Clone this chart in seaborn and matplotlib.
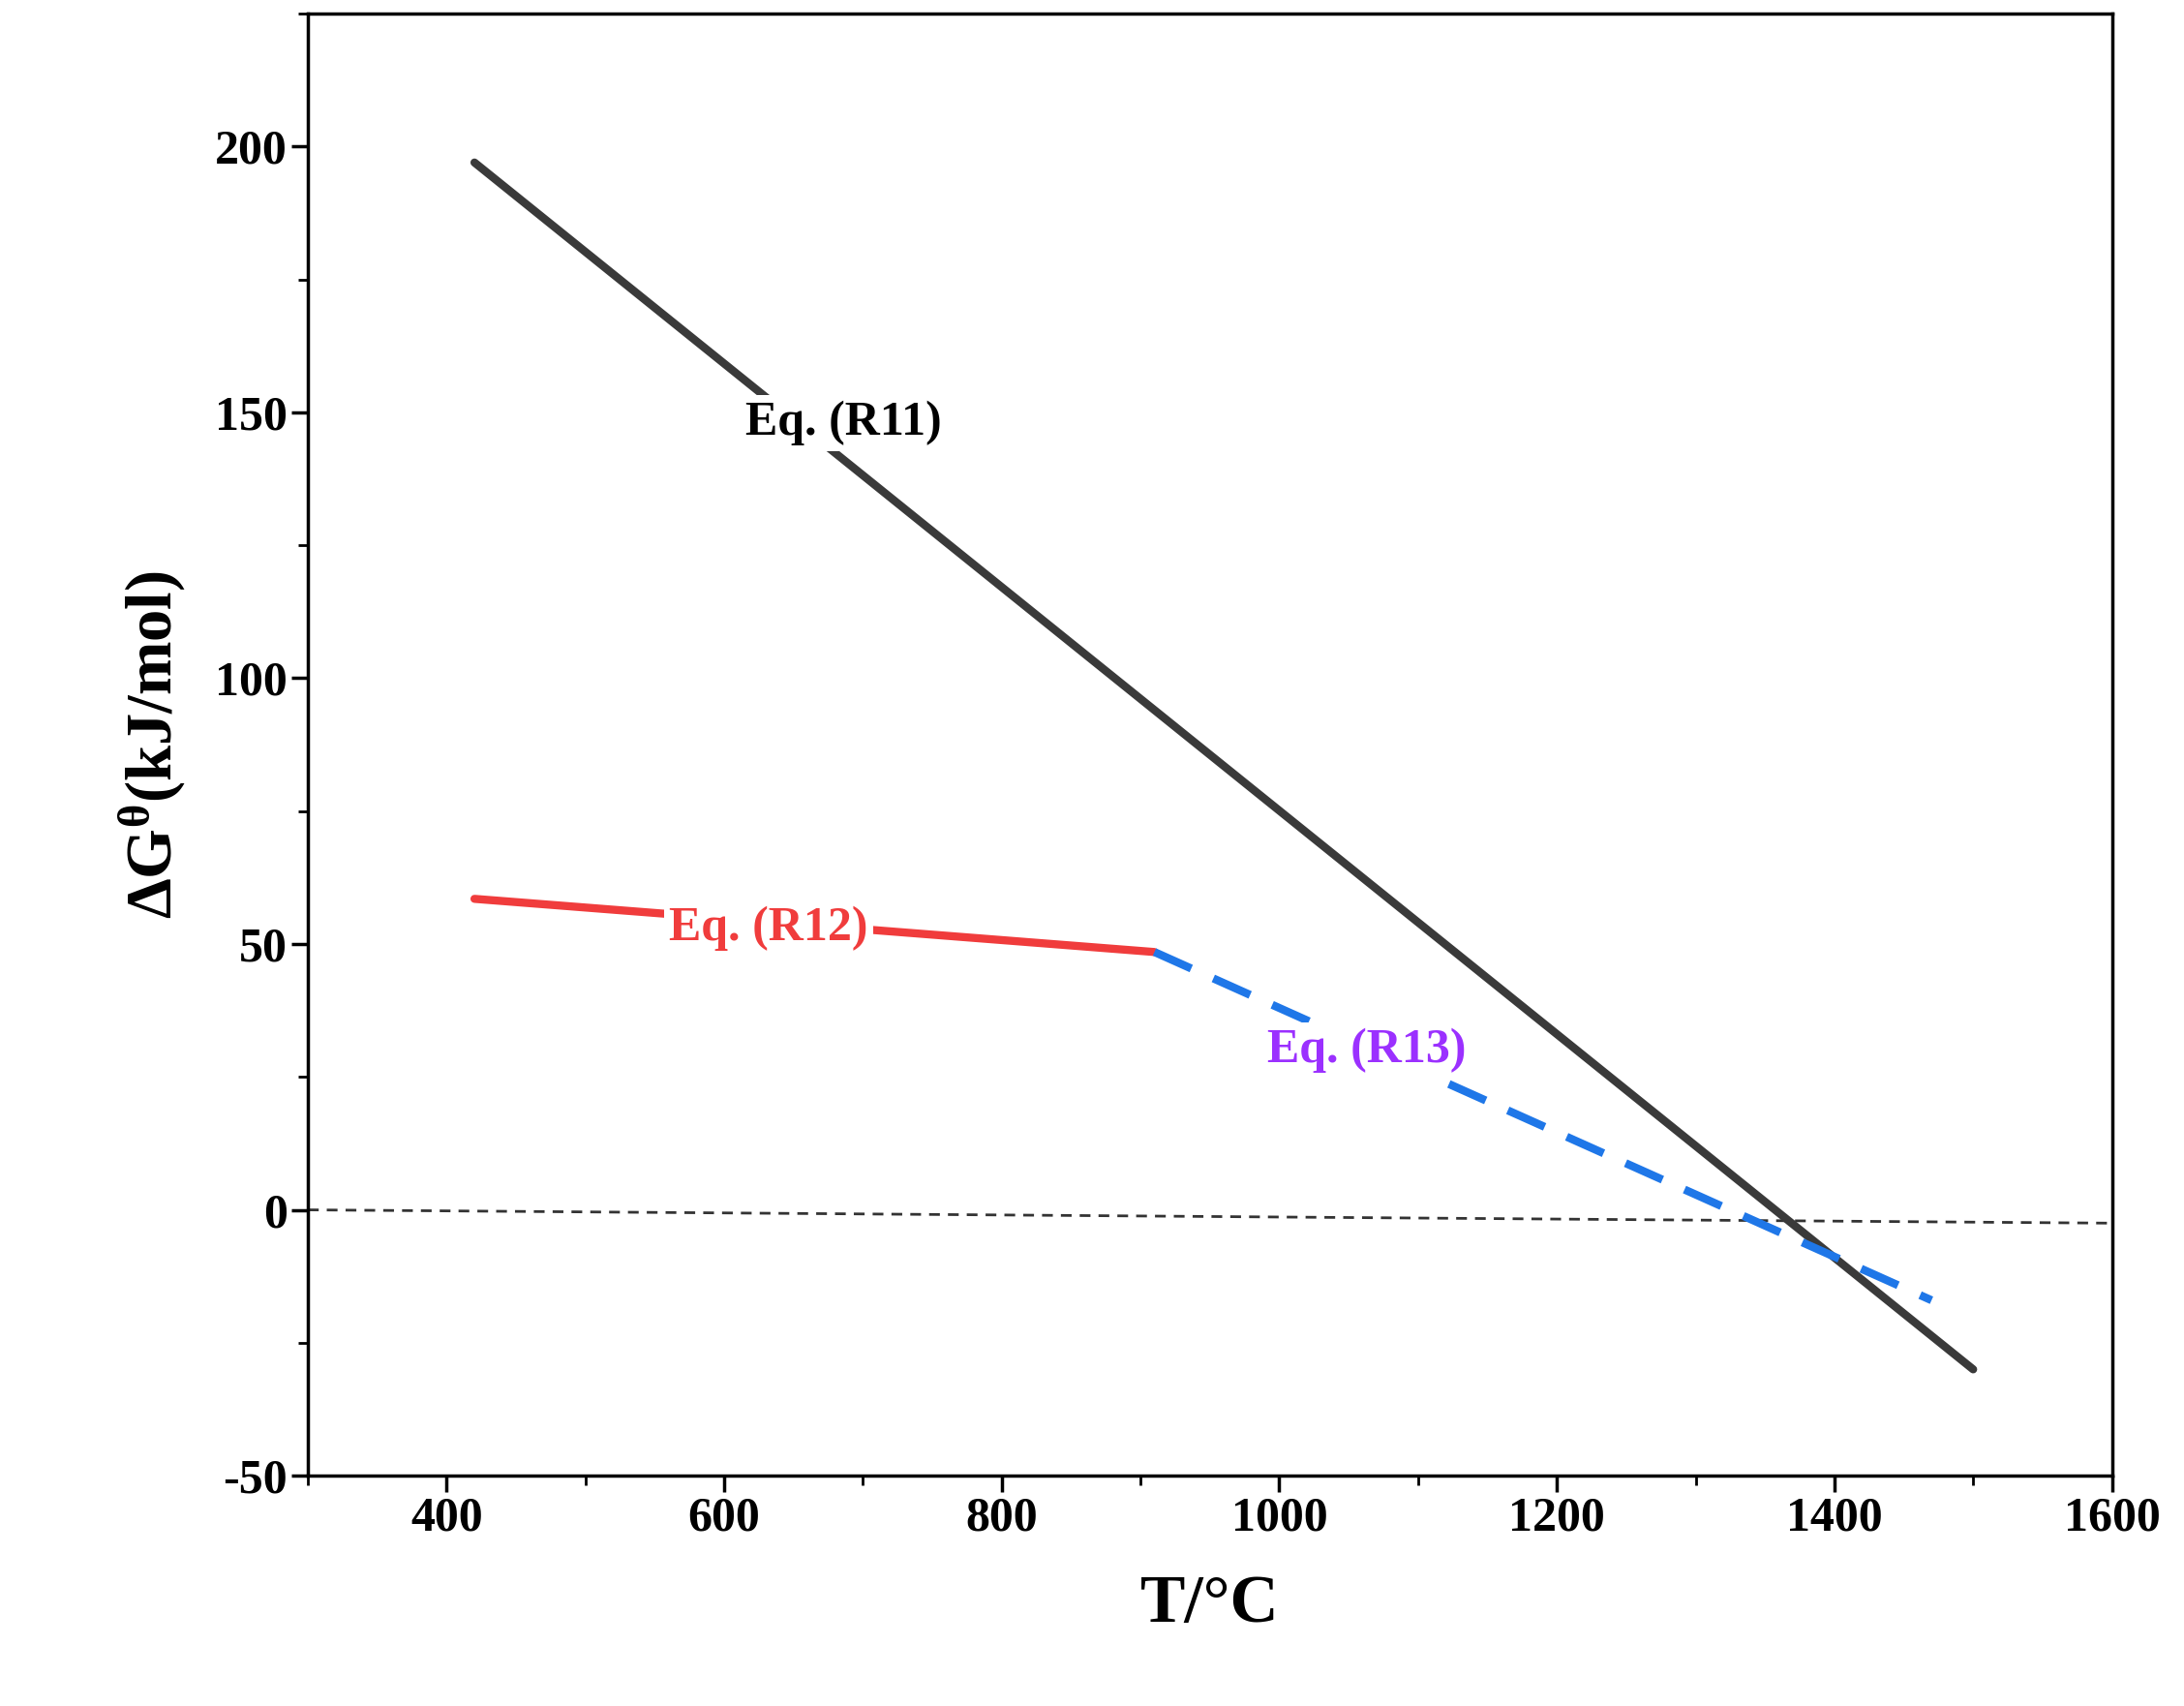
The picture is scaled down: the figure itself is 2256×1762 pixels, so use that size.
import matplotlib
matplotlib.use("Agg")
import matplotlib.pyplot as plt
import seaborn as sns
import pandas as pd
from matplotlib.ticker import MultipleLocator

r11_T = [420, 1500]
r11_G = [197, -30]
r12_T = [420, 910]
r12_G = [58.5, 48.5]
r13_T = [910, 1470]
r13_G = [48.5, -17]
zero_T = [300, 1600]
zero_G = [0, -2.5]

sns.set_style("ticks")
plt.rcParams["font.family"] = "Liberation Serif"
plt.rcParams["font.weight"] = "bold"
plt.rcParams["axes.unicode_minus"] = False
plt.rcParams["mathtext.fontset"] = "custom"
plt.rcParams["mathtext.rm"] = "Liberation Serif:bold"
plt.rcParams["mathtext.bf"] = "Liberation Serif:bold"
plt.rcParams["mathtext.it"] = "Liberation Serif:bold"
fig = plt.figure(figsize=(22.56, 17.62), dpi=100)
ax = fig.add_axes([0.141, 0.135, 0.826, 0.857])

sns.lineplot(x=zero_T, y=zero_G, ax=ax, color="#333333", lw=2, linestyle=(0, (4, 3)))
sns.lineplot(x=r11_T, y=r11_G, ax=ax, color="#3a3a3a", lw=6)
sns.lineplot(x=r12_T, y=r12_G, ax=ax, color="#f03c3c", lw=6)
sns.lineplot(x=r13_T, y=r13_G, ax=ax, color="#1f77e8", lw=6, linestyle=(0, (5, 3)))

box = dict(facecolor="white", edgecolor="none", pad=4)
ax.text(686, 148, "Eq. (R11)", fontsize=36, fontweight="bold", color="black", ha="center", va="center", bbox=box)
ax.text(632, 53, "Eq. (R12)", fontsize=36, fontweight="bold", color="#f03c3c", ha="center", va="center", bbox=box)
ax.text(1063, 30, "Eq. (R13)", fontsize=36, fontweight="bold", color="#9b30ff", ha="center", va="center", bbox=box)

ax.set_xlim(300, 1600)
ax.set_ylim(-50, 225)
ax.xaxis.set_major_locator(MultipleLocator(200))
ax.xaxis.set_minor_locator(MultipleLocator(100))
ax.yaxis.set_major_locator(MultipleLocator(50))
ax.yaxis.set_minor_locator(MultipleLocator(25))
ax.tick_params(which="major", length=12, width=2.5, labelsize=36, direction="out", colors="black")
ax.tick_params(which="minor", length=7, width=2, direction="out", colors="black")
for lab in ax.get_xticklabels() + ax.get_yticklabels():
    lab.set_fontweight("bold")
for s in ax.spines.values():
    s.set_linewidth(2.5)
    s.set_color("black")
ax.set_xlabel("T/\u00b0C", fontsize=50, fontweight="bold", labelpad=25, color="black")
ax.set_ylabel(r"$\Delta$G$^{\theta}$(kJ/mol)", fontsize=48, fontweight="bold", labelpad=20, color="black")
fig.savefig("out.png", dpi=100)
